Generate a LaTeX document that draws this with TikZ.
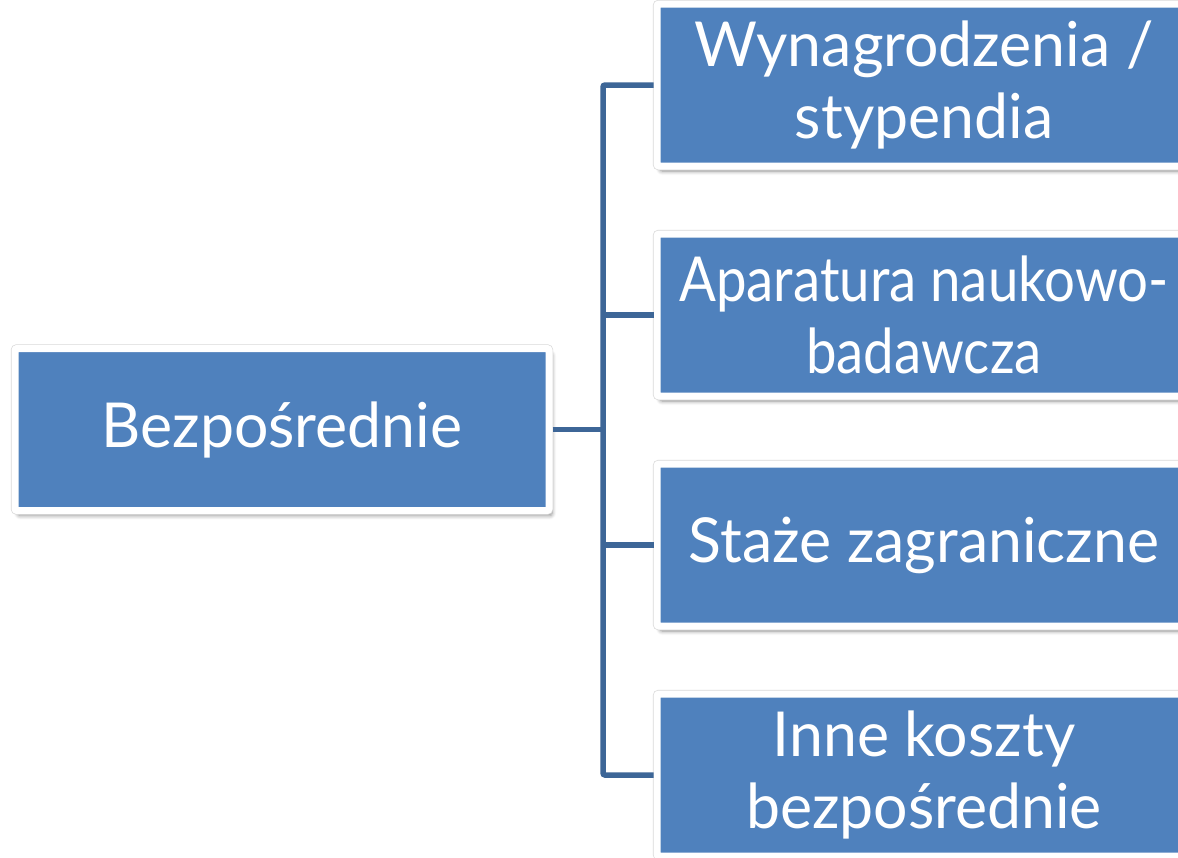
\documentclass[tikz,border=0pt]{standalone}
\usepackage{fontspec}
\setmainfont[FakeStretch=0.98]{Lato}
\newfontfamily\narrowlato[FakeStretch=0.88]{Lato}
\usetikzlibrary{shadows.blur}
\definecolor{boxblue}{HTML}{4F81BD}
\definecolor{linkblue}{HTML}{3D6697}
\begin{document}
\begin{tikzpicture}[x=0.5pt,y=-0.5pt,
  box/.style={rectangle, fill=boxblue, draw=white, line width=3.5pt,
    rounded corners=1pt, minimum width=267pt, minimum height=81pt,
    inner sep=0pt, text=white, align=center,
    font=\fontsize{31}{36}\selectfont,
    blur shadow={shadow xshift=1.5pt, shadow yshift=-2.5pt, shadow blur steps=6, shadow blur radius=2pt, shadow opacity=45},
    preaction={draw=black!15, line width=4.2pt}},
  link/.style={draw=linkblue, line width=2.75pt, rounded corners=1pt}]
\useasboundingbox (0,0) rectangle (1178,857);
\clip (0,0) rectangle (1178,857);
\node[box] (root) at (282,429.5) {Bezpośrednie};
\node[box] (w) at (924,85) {Wynagrodzenia /\\stypendia};
\node[box, font=\fontsize{31}{36}\narrowlato] (a) at (924,315) {Aparatura naukowo-\\badawcza};
\node[box] (s) at (924,545) {Staże zagraniczne};
\node[box] (i) at (924,775) {Inne koszty\\bezpośrednie};
\coordinate (trunk) at (603,430);
\draw[link] (root.east) -- (root.east -| trunk);
\draw[link] (w.west) -| (i.west -| trunk) -- (i.west);
\draw[link] (a.west) -- (a.west -| trunk);
\draw[link] (s.west) -- (s.west -| trunk);
\end{tikzpicture}
\end{document}
